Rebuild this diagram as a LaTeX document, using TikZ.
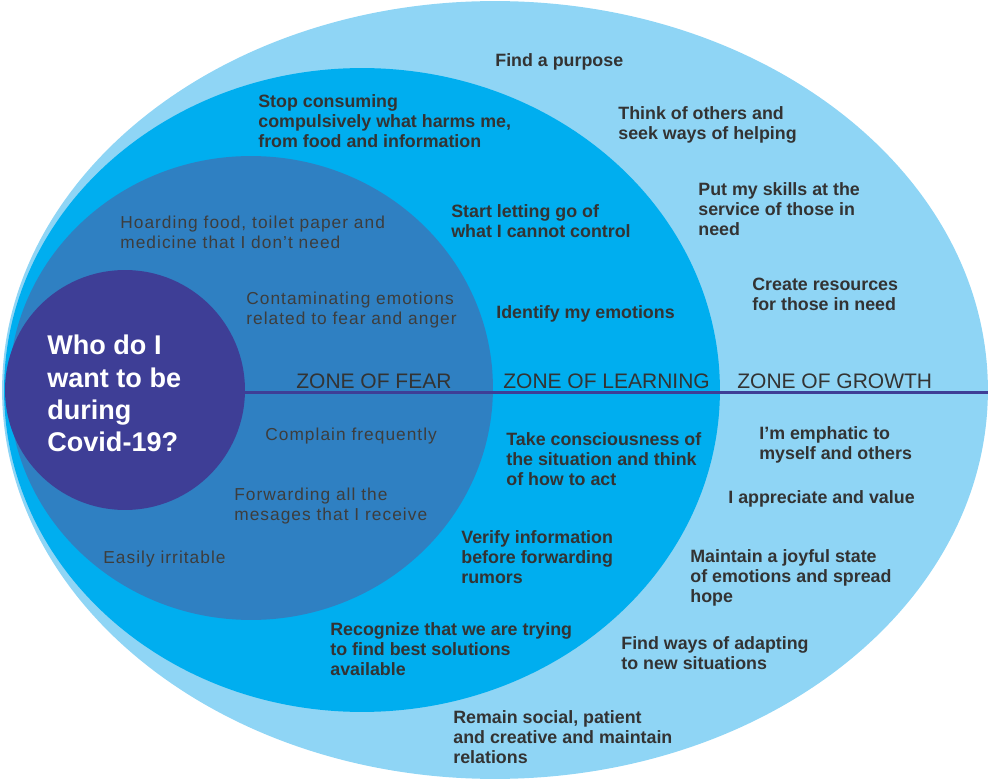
\documentclass[tikz,border=0pt]{standalone}
\usepackage{fontspec}
\setmainfont{Liberation Sans}
\newfontfamily\fearfont[LetterSpace=6]{Liberation Sans}
\usetikzlibrary{shapes.geometric}
\definecolor{growth}{HTML}{8FD5F5}
\definecolor{learn}{HTML}{00AEEF}
\definecolor{fear}{HTML}{2F80C2}
\definecolor{self}{HTML}{3E3E96}
\definecolor{ink}{HTML}{333333}
\tikzset{
  zone/.style={ellipse, fill=#1, draw=none, inner sep=0pt, outer sep=0pt},
  idea/.style={anchor=north west, inner sep=0pt, align=left, text=ink,
               font=\fontsize{10.15}{11.4}\selectfont\bfseries},
  habit/.style={anchor=north west, inner sep=0pt, align=left, text=ink!95,
                font=\fearfont\fontsize{9.85}{11.4}\selectfont},
  zonelabel/.style={anchor=west, inner sep=0pt, text=ink, font=\fontsize{11.95}{14}\selectfont},
  divider/.style={draw=self, line width=2.1pt},
}

\begin{document}
\begin{tikzpicture}[x=0.02cm, y=-0.02cm]
  \useasboundingbox (0,0) rectangle (991,780);
  \node[zone=growth, minimum width=19.72cm, minimum height=15.56cm] (growthz) at (495,390) {};
  \node[zone=learn, minimum width=14.32cm, minimum height=12.88cm] (learnz) at (362,390) {};
  \node[zone=fear, minimum width=9.68cm, minimum height=9.28cm] (fearz) at (251,388) {};
  \node[circle, fill=self, inner sep=0pt, outer sep=0pt, minimum size=4.8cm] (core) at (125,390) {};
  \draw[divider] ([yshift=-0.05cm]core.east) -- ([yshift=-0.05cm]growthz.east);

  \node[anchor=north west, inner sep=0pt, align=left, text=white,
        font=\fontsize{15.4}{18.4}\selectfont\bfseries] (who) at (47,335)
    {Who do I\\want to be\\during\\Covid-19?};

  \node[zonelabel] (lblfear) at (296,381) {ZONE OF FEAR};
  \node[zonelabel] (lbllearn) at (503,381) {ZONE OF LEARNING};
  \node[zonelabel] (lblgrowth) at (737,381) {ZONE OF GROWTH};

  % zone of fear
  \node[habit] (hoarding) at (120,216) {Hoarding food, toilet paper and\\medicine that I don’t need};
  \node[habit] (contam) at (246,292) {Contaminating emotions\\related to fear and anger};
  \node[habit] (complain) at (265,428) {Complain frequently};
  \node[habit] (forwarding) at (234,488) {Forwarding all the\\mesages that I receive};
  \node[habit] (irritable) at (103,551) {Easily irritable};

  % zone of learning
  \node[idea] (stopcons) at (258,94) {Stop consuming\\compulsively what harms me,\\from food and information};
  \node[idea] (lettinggo) at (451,204) {Start letting go of\\what I cannot control};
  \node[idea] (identify) at (496,305) {Identify my emotions};
  \node[idea] (conscious) at (506,432) {Take consciousness of\\the situation and think\\of how to act};
  \node[idea] (verify) at (461,530) {Verify information\\before forwarding\\rumors};
  \node[idea] (recognize) at (330,622) {Recognize that we are trying\\to find best solutions\\available};

  % zone of growth
  \node[idea] (purpose) at (495,53) {Find a purpose};
  \node[idea] (others) at (618,106) {Think of others and\\seek ways of helping};
  \node[idea] (skills) at (698,182) {Put my skills at the\\service of those in\\need};
  \node[idea] (resources) at (752,278) {Create resources\\for those in need};
  \node[idea] (emphatic) at (759,426) {I’m emphatic to\\myself and others};
  \node[idea] (appreciate) at (728,490) {I appreciate and value};
  \node[idea] (joyful) at (690,549) {Maintain a joyful state\\of emotions and spread\\hope};
  \node[idea] (adapting) at (621,636) {Find ways of adapting\\to new situations};
  \node[idea] (social) at (453,710) {Remain social, patient\\and creative and maintain\\relations};
\end{tikzpicture}
\end{document}
